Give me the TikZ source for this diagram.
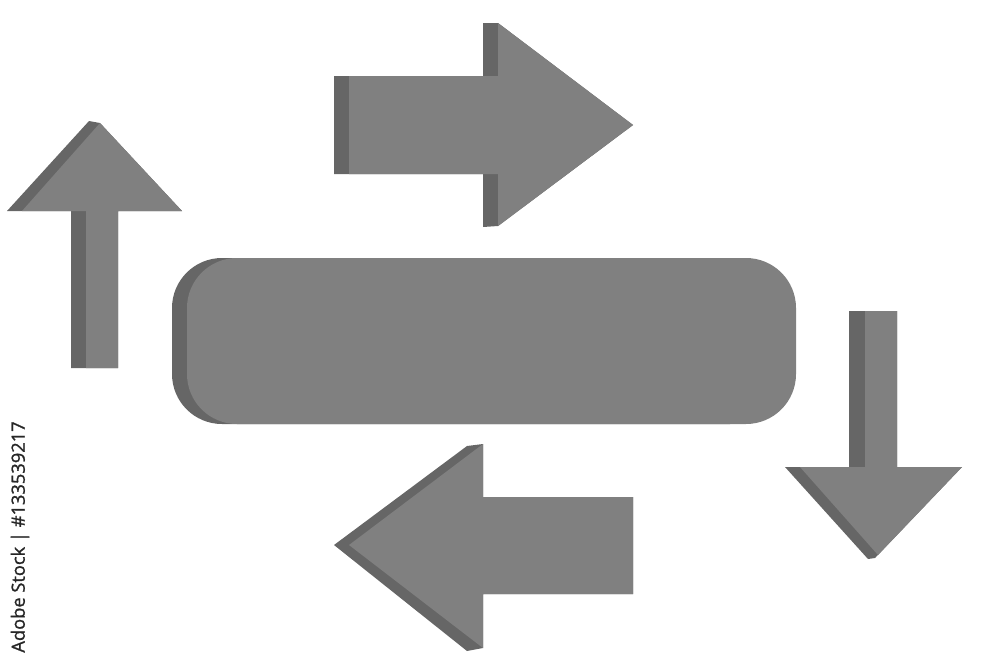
\documentclass[tikz,border=0pt]{standalone}
\usepackage{fontspec}
\newfontfamily\stockfont[FakeBold=1.2]{Open Sans}
\definecolor{facegray}{HTML}{808080}
\definecolor{sidegray}{HTML}{666666}
\tikzset{side/.style={fill=sidegray}, face/.style={fill=facegray}}

\begin{document}
\begin{tikzpicture}[x=0.02cm,y=-0.02cm]
\useasboundingbox (0,0) rectangle (1000,660);

% middle bar
\fill[side, rounded corners=1cm] (172,258) rectangle (780,424);
\fill[face, rounded corners=1cm] (187,258) rectangle (796,424);

% up arrow
\fill[side] (71,368) -- (71,211) -- (7,211) -- (89,121) -- (100,123) -- (182,211) -- (118,211) -- (118,368) -- cycle;
\fill[face] (86,368) -- (86,211) -- (22,211) -- (100,123) -- (182,211) -- (118,211) -- (118,368) -- cycle;

% right arrow
\fill[side] (334,76) -- (483,76) -- (483,23) -- (498,23) -- (633,125) -- (498,226) -- (483,227) -- (483,174) -- (334,174) -- cycle;
\fill[face] (349,76) -- (498,76) -- (498,23) -- (633,125) -- (498,226) -- (498,174) -- (349,174) -- cycle;

% down arrow
\fill[side] (849,311) -- (897,311) -- (897,467) -- (962,467) -- (875,558) -- (868,559) -- (785,467) -- (849,467) -- cycle;
\fill[face] (865,311) -- (897,311) -- (897,467) -- (962,467) -- (878,555) -- (800,467) -- (865,467) -- cycle;

% left arrow
\fill[side] (633,497) -- (483,497) -- (483,444) -- (467,446) -- (334,545) -- (467,651) -- (483,648) -- (483,594) -- (633,594) -- cycle;
\fill[face] (633,497) -- (483,497) -- (483,444) -- (349,545) -- (483,648) -- (483,594) -- (633,594) -- cycle;

\node[rotate=90, text=black!85, font=\stockfont\fontsize{10.4}{12}\selectfont, inner sep=0] (stockid) at (20,537) {Adobe Stock | \#133539217};
\end{tikzpicture}
\end{document}
